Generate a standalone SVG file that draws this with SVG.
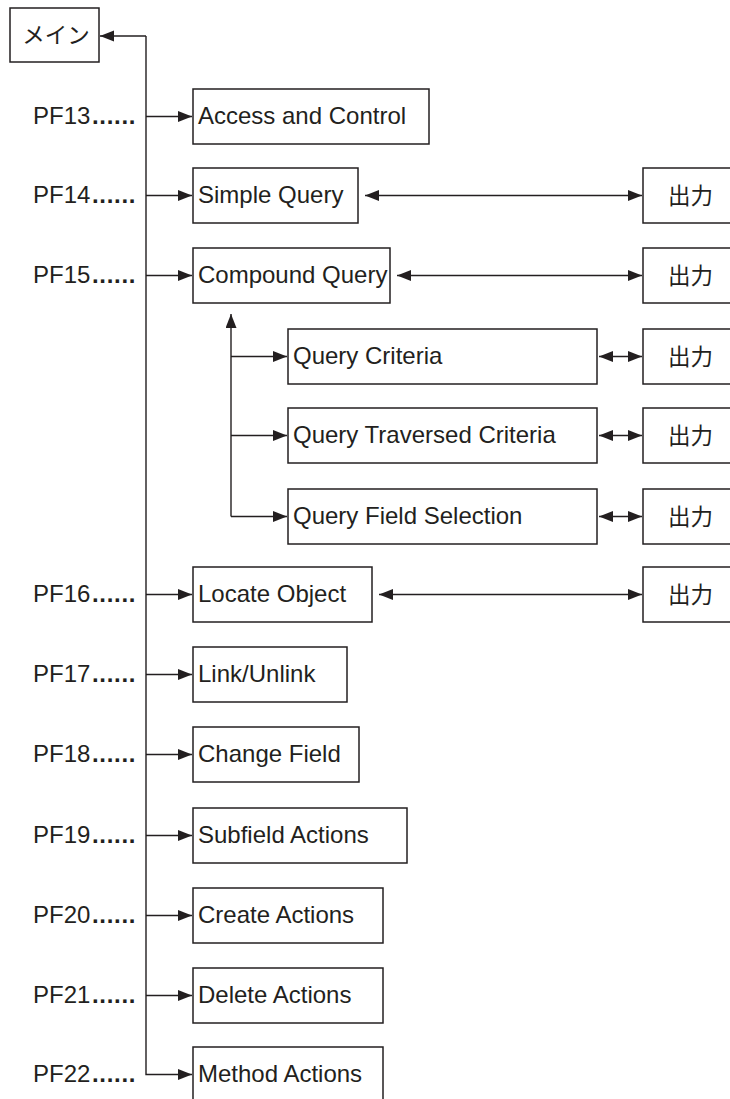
<svg xmlns="http://www.w3.org/2000/svg" width="730" height="1099" viewBox="0 0 730 1099">
<style>
.box{fill:#fff;stroke:#231f20;stroke-width:1.5}
.t{font-family:"Liberation Sans",Arial,sans-serif;font-size:24px;fill:#231f20}
.j{font-family:"Liberation Sans","Noto Sans CJK JP",sans-serif;font-size:22.5px;fill:#231f20}
.d{font-weight:bold;letter-spacing:0.7px}
.ln{fill:none;stroke:#231f20;stroke-width:1.4}
</style>
<defs>
<marker id="ah" markerUnits="userSpaceOnUse" markerWidth="15" markerHeight="12" refX="14" refY="5.5" orient="auto-start-reverse" viewBox="0 0 15 12">
<path d="M0,0 L14,5.5 L0,11 z" fill="#231f20"/>
</marker>
</defs>
<rect width="730" height="1099" fill="#fff"/>
<g id="connectors">
<path class="ln" d="M146,36 H100" marker-end="url(#ah)"/>
<path class="ln" d="M146,36 V1074.5 H192" marker-end="url(#ah)"/>
<path class="ln" d="M146,116.5 H192" marker-end="url(#ah)"/>
<path class="ln" d="M146,195.5 H192" marker-end="url(#ah)"/>
<path class="ln" d="M146,275.5 H192" marker-end="url(#ah)"/>
<path class="ln" d="M146,594.5 H192" marker-end="url(#ah)"/>
<path class="ln" d="M146,674.5 H192" marker-end="url(#ah)"/>
<path class="ln" d="M146,754.5 H192" marker-end="url(#ah)"/>
<path class="ln" d="M146,835.5 H192" marker-end="url(#ah)"/>
<path class="ln" d="M146,915.5 H192" marker-end="url(#ah)"/>
<path class="ln" d="M146,995.5 H192" marker-end="url(#ah)"/>
<path class="ln" d="M231,516.5 V314" marker-end="url(#ah)"/>
<path class="ln" d="M231,356.5 H287" marker-end="url(#ah)"/>
<path class="ln" d="M231,435.5 H287" marker-end="url(#ah)"/>
<path class="ln" d="M231,516.5 H287" marker-end="url(#ah)"/>
<path class="ln" d="M365,195.5 H642" marker-start="url(#ah)" marker-end="url(#ah)"/>
<path class="ln" d="M397,275.5 H642" marker-start="url(#ah)" marker-end="url(#ah)"/>
<path class="ln" d="M379,594.5 H642" marker-start="url(#ah)" marker-end="url(#ah)"/>
<path class="ln" d="M599,356.5 H642" marker-start="url(#ah)" marker-end="url(#ah)"/>
<path class="ln" d="M599,435.5 H642" marker-start="url(#ah)" marker-end="url(#ah)"/>
<path class="ln" d="M599,516.5 H642" marker-start="url(#ah)" marker-end="url(#ah)"/>
</g>
<g id="labels">
<text class="t" x="33" y="124">PF13<tspan class="d" x="92">......</tspan></text>
<text class="t" x="33" y="203">PF14<tspan class="d" x="92">......</tspan></text>
<text class="t" x="33" y="283">PF15<tspan class="d" x="92">......</tspan></text>
<text class="t" x="33" y="602">PF16<tspan class="d" x="92">......</tspan></text>
<text class="t" x="33" y="682">PF17<tspan class="d" x="92">......</tspan></text>
<text class="t" x="33" y="762">PF18<tspan class="d" x="92">......</tspan></text>
<text class="t" x="33" y="843">PF19<tspan class="d" x="92">......</tspan></text>
<text class="t" x="33" y="923">PF20<tspan class="d" x="92">......</tspan></text>
<text class="t" x="33" y="1003">PF21<tspan class="d" x="92">......</tspan></text>
<text class="t" x="33" y="1082">PF22<tspan class="d" x="92">......</tspan></text>
</g>
<g id="main"><rect class="box" x="10" y="8" width="89" height="54"/><text class="j" x="56" y="43" text-anchor="middle">メイン</text></g>
<g id="access"><rect class="box" x="193" y="89" width="236" height="55"/><text class="t" x="198" y="124">Access and Control</text></g>
<g id="simple"><rect class="box" x="193" y="168" width="165" height="55"/><text class="t" x="198" y="203">Simple Query</text></g>
<g id="compound"><rect class="box" x="193" y="248" width="197" height="55"/><text class="t" x="198" y="283">Compound Query</text></g>
<g id="qcrit"><rect class="box" x="288" y="329" width="309" height="55"/><text class="t" x="293" y="364">Query Criteria</text></g>
<g id="qtrav"><rect class="box" x="288" y="408" width="309" height="55"/><text class="t" x="293" y="443">Query Traversed Criteria</text></g>
<g id="qfield"><rect class="box" x="288" y="489" width="309" height="55"/><text class="t" x="293" y="524">Query Field Selection</text></g>
<g id="locate"><rect class="box" x="193" y="567" width="179" height="55"/><text class="t" x="198" y="602">Locate Object</text></g>
<g id="link"><rect class="box" x="193" y="647" width="154" height="55"/><text class="t" x="198" y="682">Link/Unlink</text></g>
<g id="change"><rect class="box" x="193" y="727" width="166" height="55"/><text class="t" x="198" y="762">Change Field</text></g>
<g id="subfield"><rect class="box" x="193" y="808" width="214" height="55"/><text class="t" x="198" y="843">Subfield Actions</text></g>
<g id="create"><rect class="box" x="193" y="888" width="190" height="55"/><text class="t" x="198" y="923">Create Actions</text></g>
<g id="delete"><rect class="box" x="193" y="968" width="190" height="55"/><text class="t" x="198" y="1003">Delete Actions</text></g>
<g id="method"><rect class="box" x="193" y="1047" width="190" height="60"/><text class="t" x="198" y="1082">Method Actions</text></g>
<g id="out1"><rect class="box" x="643" y="168" width="100" height="55"/><text class="j" x="668" y="204">出力</text></g>
<g id="out2"><rect class="box" x="643" y="248" width="100" height="55"/><text class="j" x="668" y="284">出力</text></g>
<g id="out3"><rect class="box" x="643" y="329" width="100" height="55"/><text class="j" x="668" y="365">出力</text></g>
<g id="out4"><rect class="box" x="643" y="408" width="100" height="55"/><text class="j" x="668" y="444">出力</text></g>
<g id="out5"><rect class="box" x="643" y="489" width="100" height="55"/><text class="j" x="668" y="525">出力</text></g>
<g id="out6"><rect class="box" x="643" y="567" width="100" height="55"/><text class="j" x="668" y="603">出力</text></g>
</svg>
